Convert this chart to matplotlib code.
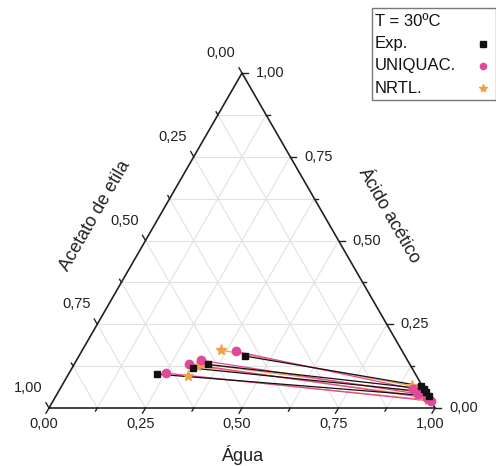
import numpy as np
import matplotlib
matplotlib.use("Agg")
import matplotlib.pyplot as plt
from matplotlib.lines import Line2D
from matplotlib.patches import Rectangle

plt.rcParams['font.family'] = ['Liberation Sans', 'DejaVu Sans']

# mass fractions (water, acetic acid); ethyl acetate = 1 - water - acid
exp_org_water = [0.230, 0.313, 0.346, 0.430]
exp_org_acid = [0.101, 0.119, 0.130, 0.155]
exp_aq_water = [0.966, 0.953, 0.943, 0.931]
exp_aq_acid = [0.036, 0.048, 0.057, 0.066]

uniquac_org_water = [0.251, 0.298, 0.324, 0.400]
uniquac_org_acid = [0.104, 0.131, 0.142, 0.169]
uniquac_aq_water = [0.979, 0.964, 0.935, 0.915]
uniquac_aq_acid = [0.021, 0.030, 0.042, 0.057]

nrtl_org_water = [0.312, 0.321, 0.330, 0.359]
nrtl_org_acid = [0.096, 0.125, 0.132, 0.173]
nrtl_aq_water = [0.970, 0.943, 0.927, 0.907]
nrtl_aq_acid = [0.024, 0.036, 0.048, 0.066]

tick_values = [0.0, 0.25, 0.5, 0.75, 1.0]
minor_values = [0.125, 0.375, 0.625, 0.875]
tick_labels = ['0,00', '0,25', '0,50', '0,75', '1,00']
legend_labels = ['T = 30ºC', 'Exp.', 'UNIQUAC.', 'NRTL.']

SQ3 = np.sqrt(3) / 2
W, H = 496, 466


def to_xy(water, acid):
    water = np.asarray(water, dtype=float)
    acid = np.asarray(acid, dtype=float)
    return water + 0.5 * acid, acid * SQ3


fig = plt.figure(figsize=(W / 100, H / 100), dpi=100)
ax = fig.add_axes([0, 0, 1, 1])
ax.set_xlim(-49 / 386, (W - 49) / 386)
ax.set_ylim(-58 / 386.8, (H - 58) / 386.8)
ax.axis('off')

# grid
grid_kw = dict(color='#e2e2e2', lw=0.8, zorder=1)
for c in np.arange(0.125, 1.0, 0.125):
    ax.plot(*to_xy([0, 1 - c], [c, c]), **grid_kw)           # acid
    ax.plot(*to_xy([c, c], [0, 1 - c]), **grid_kw)           # water
    ax.plot(*to_xy([1 - c, 0], [0, 1 - c]), **grid_kw)       # ethyl acetate

# triangle
ax.plot(*to_xy([0, 1, 0, 0], [0, 0, 1, 0]), color='#222222', lw=1.2, zorder=2)

# ticks
px = 1 / 386.0
dirs = {
    'bottom': np.array([-0.5, -SQ3]),
    'left': np.array([-0.5, SQ3]),
    'right': np.array([1.0, 0.0]),
}


def axis_point(name, v):
    if name == 'bottom':
        return np.array(to_xy(v, 0))
    if name == 'left':   # ethyl acetate = v on left edge (water = 0)
        return np.array(to_xy(0, 1 - v))
    return np.array(to_xy(1 - v, v))   # right edge, acid = v


for name, d in dirs.items():
    for v in tick_values:
        p = axis_point(name, v)
        q = p + d * 6 * px
        ax.plot([p[0], q[0]], [p[1], q[1]], color='#222222', lw=1.0, zorder=2)
    for v in minor_values:
        p = axis_point(name, v)
        q = p + d * 3.5 * px
        ax.plot([p[0], q[0]], [p[1], q[1]], color='#222222', lw=1.0, zorder=2)

lab_kw = dict(textcoords='offset pixels', fontsize=10.5, color='#222222', va='center')
for v, lab in zip(tick_values, tick_labels):
    ax.annotate(lab, xy=axis_point('bottom', v), xytext=(-5, -16), ha='center', **lab_kw)
    ax.annotate(lab, xy=axis_point('left', v), xytext=(-21, 20), ha='center', **lab_kw)
    ax.annotate(lab, xy=axis_point('right', v), xytext=(14, 0), ha='left', **lab_kw)

title_kw = dict(fontsize=13, color='#222222', ha='center', va='center')
ax.annotate('Água', xy=axis_point('bottom', 0.5), xytext=(0, -47),
            textcoords='offset pixels', **title_kw)
ax.annotate('Acetato de etila', xy=axis_point('left', 0.5), xytext=(-50, 25),
            textcoords='offset pixels', rotation=60, **title_kw)
ax.annotate('Ácido acético', xy=axis_point('right', 0.5), xytext=(50, 25),
            textcoords='offset pixels', rotation=-60, **title_kw)

# tie lines
black = '#111111'
pink = '#e2489c'
orange = '#f0a048'
for wo, ao, wa, aa, col in [
    (nrtl_org_water, nrtl_org_acid, nrtl_aq_water, nrtl_aq_acid, orange),
    (uniquac_org_water, uniquac_org_acid, uniquac_aq_water, uniquac_aq_acid, pink),
    (exp_org_water, exp_org_acid, exp_aq_water, exp_aq_acid, black),
]:
    for i in range(len(wo)):
        ax.plot(*to_xy([wo[i], wa[i]], [ao[i], aa[i]]), color=col, lw=0.9, zorder=3)

for w, a in [(nrtl_org_water, nrtl_org_acid), (nrtl_aq_water, nrtl_aq_acid)]:
    ax.plot(*to_xy(w, a), ls='none', marker='*', ms=8, color=orange, zorder=4)
for w, a in [(uniquac_org_water, uniquac_org_acid), (uniquac_aq_water, uniquac_aq_acid)]:
    ax.plot(*to_xy(w, a), ls='none', marker='o', ms=6, color=pink, zorder=5)
for w, a in [(exp_org_water, exp_org_acid), (exp_aq_water, exp_aq_acid)]:
    ax.plot(*to_xy(w, a), ls='none', marker='s', ms=5, color=black, zorder=6)

# legend box (text left aligned, symbols in a right-hand column)
legend_styles = [None, dict(marker='s', ms=4, color=black),
                 dict(marker='o', ms=4.5, color=pink), dict(marker='*', ms=6, color=orange)]
fig.add_artist(Rectangle((372 / W, 1 - 100 / H), 124 / W, 92 / H, transform=fig.transFigure,
                         fill=False, edgecolor='#777777', lw=1.0))
for i, (lab, st) in enumerate(zip(legend_labels, legend_styles)):
    yy = 1 - (21.5 + 22.2 * i) / H
    fig.text(375 / W, yy, lab, fontsize=12, color='#111111', ha='left', va='center')
    if st is not None:
        fig.add_artist(Line2D([483 / W], [yy], transform=fig.transFigure, ls='none', **st))

fig.savefig('out.png', dpi=100)
